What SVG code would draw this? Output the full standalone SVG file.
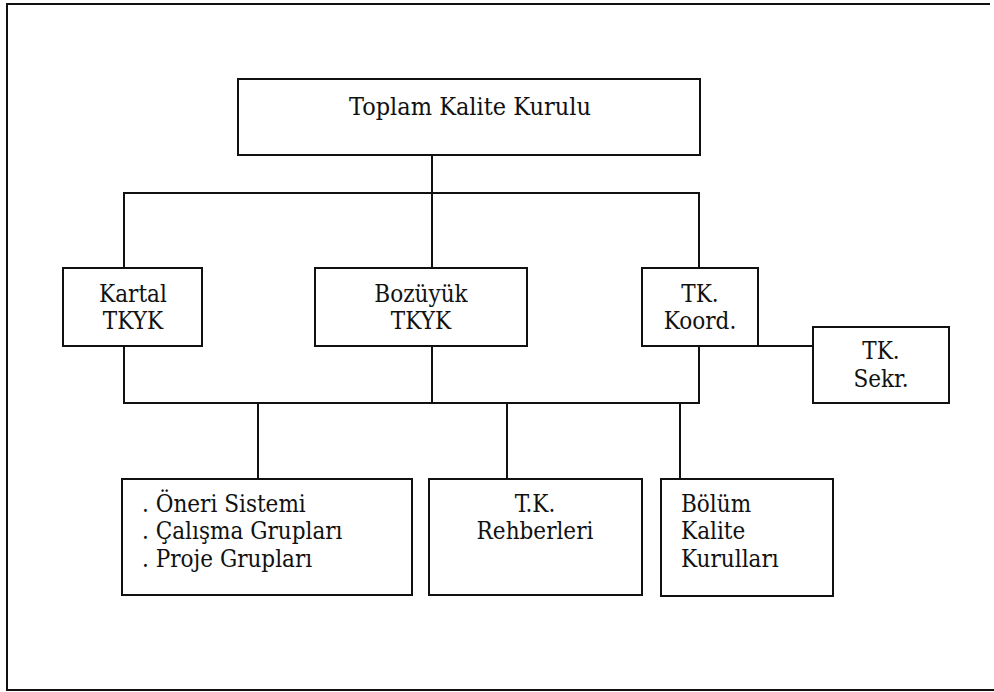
<svg xmlns="http://www.w3.org/2000/svg" width="994" height="692" viewBox="0 0 994 692">
  <style>
    .box { fill: #ffffff; stroke: #111111; stroke-width: 2; }
    .wire { fill: none; stroke: #111111; stroke-width: 2; }
    .lbl { font-family: 'DejaVu Serif Condensed', 'DejaVu Serif', 'Liberation Serif', serif; font-stretch: condensed; font-size: 24px; fill: #111111; }
    .top { font-size: 25px; }
    .mid { text-anchor: middle; }
  </style>

  <rect x="0" y="0" width="994" height="692" fill="#ffffff"/>

  <!-- page frame (open on the right) -->
  <path class="wire" d="M994,690 H7 V4 H990"/>

  <!-- connectors -->
  <g id="connectors">
    <path class="wire" d="M432,155 V268"/>
    <path class="wire" d="M124,268 V193 H699 V268"/>
    <path class="wire" d="M124,346 V403 H699 V346"/>
    <path class="wire" d="M432,346 V403"/>
    <path class="wire" d="M758,346 H813"/>
    <path class="wire" d="M258,403 V479"/>
    <path class="wire" d="M507,403 V479"/>
    <path class="wire" d="M680,403 V479"/>
  </g>

  <g id="toplam-kalite-kurulu">
    <rect class="box" x="238" y="79" width="462" height="76"/>
    <text class="lbl top mid" x="470" y="115">Toplam Kalite Kurulu</text>
  </g>

  <g id="kartal-tkyk">
    <rect class="box" x="63" y="268" width="139" height="78"/>
    <text class="lbl mid" x="133" y="302">Kartal</text>
    <text class="lbl mid" x="133" y="329">TKYK</text>
  </g>

  <g id="bozuyuk-tkyk">
    <rect class="box" x="315" y="268" width="212" height="78"/>
    <text class="lbl mid" x="421" y="302">Bozüyük</text>
    <text class="lbl mid" x="421" y="329">TKYK</text>
  </g>

  <g id="tk-koord">
    <rect class="box" x="642" y="268" width="116" height="78"/>
    <text class="lbl mid" x="700" y="302">TK.</text>
    <text class="lbl mid" x="700" y="329">Koord.</text>
  </g>

  <g id="tk-sekr">
    <rect class="box" x="813" y="327" width="136" height="76"/>
    <text class="lbl mid" x="881" y="359">TK.</text>
    <text class="lbl mid" x="881" y="387">Sekr.</text>
  </g>

  <g id="gruplar">
    <rect class="box" x="122" y="479" width="290" height="116"/>
    <text class="lbl" x="142" y="512">. Öneri Sistemi</text>
    <text class="lbl" x="142" y="539">. Çalışma Grupları</text>
    <text class="lbl" x="142" y="567">. Proje Grupları</text>
  </g>

  <g id="tk-rehberleri">
    <rect class="box" x="429" y="479" width="213" height="116"/>
    <text class="lbl mid" x="535" y="512">T.K.</text>
    <text class="lbl mid" x="535" y="539">Rehberleri</text>
  </g>

  <g id="bolum-kalite-kurullari">
    <rect class="box" x="661" y="479" width="172" height="117"/>
    <text class="lbl" x="681" y="512">Bölüm</text>
    <text class="lbl" x="681" y="539">Kalite</text>
    <text class="lbl" x="681" y="567">Kurulları</text>
  </g>
</svg>
